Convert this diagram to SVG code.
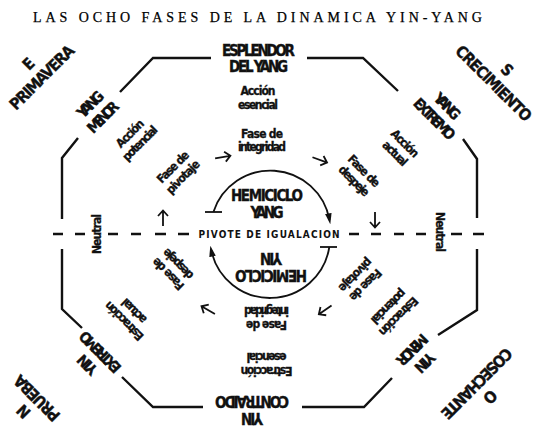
<svg xmlns="http://www.w3.org/2000/svg" xmlns:xlink="http://www.w3.org/1999/xlink" width="546" height="436" viewBox="0 0 546 436">
<style>
.ttl{font-family:"Liberation Serif",serif;font-size:14px;fill:#000;stroke:#000;stroke-width:0.25;}
.b{font-family:"DejaVu Sans Condensed","DejaVu Sans",sans-serif;font-weight:bold;font-size:15px;fill:#111;stroke:#111;stroke-width:0.35;text-anchor:middle;}
.c{font-family:"DejaVu Sans Condensed","DejaVu Sans",sans-serif;font-weight:bold;font-size:16px;fill:#111;stroke:#111;stroke-width:0.35;text-anchor:middle;}
.s{font-family:"DejaVu Sans Condensed","DejaVu Sans",sans-serif;font-weight:bold;font-size:12px;fill:#111;stroke:#111;stroke-width:0.3;text-anchor:middle;}
.p{font-family:"DejaVu Sans Condensed","DejaVu Sans",sans-serif;font-weight:bold;font-size:10px;fill:#111;text-anchor:middle;}
.ln{stroke:#111;stroke-width:2.4;fill:none;}
.ar{stroke:#111;stroke-width:1.8;fill:none;}
</style>
<defs>
<marker id="ah" viewBox="0 0 10 10" refX="6" refY="5" markerWidth="11" markerHeight="11" markerUnits="userSpaceOnUse" orient="auto">
<path d="M0,2 L10,5 L0,8 z" fill="#111"/>
</marker>
<g id="oa"><path d="M0,8 V-7 M-5,-2 L0,-7.5 L5,-2" class="ar"/></g>
</defs>
<rect width="546" height="436" fill="#fff"/>
<text class="ttl" x="33" y="22" textLength="449">LAS OCHO FASES DE LA DINAMICA YIN-YANG</text>

<g id="connectors">
<path class="ln" d="M211,58 H153 L120,92"/>
<path class="ln" d="M78,138 L62,158 V219"/>
<path class="ln" d="M62,249 V309 L82,328"/>
<path class="ln" d="M122,377 L153,407 H203"/>
<path class="ln" d="M302,407 H364 L392,378"/>
<path class="ln" d="M438,335 L477,310 V249"/>
<path class="ln" d="M477,218 V159 L463,139"/>
<path class="ln" d="M398,91 L363,58 H307"/>
<path class="ln" d="M53,234h10 M75,234h10 M108,234h10 M131,234h10 M155,234h11 M178,234h11 M349,234h10 M371,234h10 M394,234h10 M416,234h10 M451,234h11 M473,234h11"/>
<path class="ar" d="M213.4,212 A60 60 0 0 1 329.5,220" marker-end="url(#ah)"/>
<path class="ar" d="M205,212 H222"/>
<path class="ar" d="M329.3,247 A60 60 0 0 1 211.2,250" marker-end="url(#ah)"/>
<path class="ar" d="M320,247 H337"/>
<use xlink:href="#oa" transform="translate(163,218)"/>
<use xlink:href="#oa" transform="translate(375,220) rotate(180)"/>
<use xlink:href="#oa" transform="translate(223,157) rotate(80)"/>
<use xlink:href="#oa" transform="translate(320,160) rotate(110)"/>
<use xlink:href="#oa" transform="translate(208,310) rotate(-60)"/>
<use xlink:href="#oa" transform="translate(325,310) rotate(235)"/>
</g>

<g id="n-esplendor"><text class="b" x="258.5" y="56" textLength="73">ESPLENDOR</text><text class="b" x="258.5" y="72" textLength="59">DEL YANG</text></g>
<g id="n-accion-esencial"><text class="s" x="258" y="95" textLength="35">Acción</text><text class="s" x="258" y="109" textLength="40">esencial</text></g>
<g id="n-fase-integridad"><text class="s" x="262" y="138" textLength="42">Fase de</text><text class="s" x="262" y="151" textLength="48">integridad</text></g>
<g id="n-hemiciclo-yang"><text class="b" x="267" y="201" textLength="72">HEMICICLO</text><text class="b" x="267" y="218" textLength="33">YANG</text></g>
<g id="n-pivote"><text class="p" x="269" y="238" textLength="141">PIVOTE DE IGUALACION</text></g>

<g id="n-primavera" transform="translate(35,70.5) rotate(-45)"><text class="c" y="-3.7">E</text><text class="c" y="15.3" textLength="84">PRIMAVERA</text></g>
<g id="n-yang-menor" transform="translate(96.5,110.5) rotate(-45)"><text class="b" y="-3.5" textLength="31">YANG</text><text class="b" y="14.5" textLength="38">MENOR</text></g>
<g id="n-accion-potencial" transform="translate(135,138.5) rotate(-45)"><text class="s" y="-3" textLength="34">Acción</text><text class="s" y="11" textLength="44">potencial</text></g>
<g id="n-fase-pivotaje" transform="translate(178,172) rotate(-45)"><text class="s" y="-3" textLength="40">Fase de</text><text class="s" y="11" textLength="42">pivotaje</text></g>

<g id="n-crecimiento" transform="translate(500.5,76.5) rotate(45)"><text class="c" y="-3.7">S</text><text class="c" y="15.3" textLength="100">CRECIMIENTO</text></g>
<g id="n-yang-extremo" transform="translate(441,112.5) rotate(45)"><text class="b" y="-3.5" textLength="31">YANG</text><text class="b" y="14.5" textLength="52">EXTREMO</text></g>
<g id="n-accion-actual" transform="translate(400,148.5) rotate(45)"><text class="s" y="-3" textLength="34">Acción</text><text class="s" y="11" textLength="30">actual</text></g>
<g id="n-fase-despeje" transform="translate(359,176) rotate(45)"><text class="s" y="-3" textLength="40">Fase de</text><text class="s" y="11" textLength="38">despeje</text></g>

<g id="n-neutral-l" transform="translate(97,234) rotate(-90)"><text class="s" y="4" textLength="40">Neutral</text></g>
<g id="n-neutral-r" transform="translate(440,232) rotate(90)"><text class="s" y="4" textLength="40">Neutral</text></g>

<g id="n-hemiciclo-yin" transform="translate(271,267) rotate(180)"><text class="b" y="-3" textLength="72">HEMICICLO</text><text class="b" y="14" textLength="22">YIN</text></g>
<g id="n-fase-integridad-2" transform="translate(266.5,317.5) rotate(180)"><text class="s" y="-3" textLength="41">Fase de</text><text class="s" y="11" textLength="45">integridad</text></g>
<g id="n-estraccion-esencial" transform="translate(266.5,363.5) rotate(180)"><text class="s" y="-3" textLength="52">Estracción</text><text class="s" y="11" textLength="40">esencial</text></g>
<g id="n-yin-contraido" transform="translate(252,410) rotate(180)"><text class="b" y="-3" textLength="22">YIN</text><text class="b" y="14" textLength="74">CONTRAIDO</text></g>

<g id="n-prueba" transform="translate(30,405) rotate(225)"><text class="c" y="-3.7">N</text><text class="c" y="15.3" textLength="58">PRUEBA</text></g>
<g id="n-yin-extremo" transform="translate(93.5,358.5) rotate(225)"><text class="b" y="-3.5" textLength="22">YIN</text><text class="b" y="14.5" textLength="52">EXTREMO</text></g>
<g id="n-estraccion-actual" transform="translate(129,316) rotate(225)"><text class="s" y="-3" textLength="50">Estracción</text><text class="s" y="11" textLength="30">actual</text></g>
<g id="n-fase-despeje-2" transform="translate(173,269) rotate(225)"><text class="s" y="-3" textLength="40">Fase de</text><text class="s" y="11" textLength="38">despeje</text></g>

<g id="n-cosechante" transform="translate(483.5,390.5) rotate(135)"><text class="c" y="-3.7">O</text><text class="c" y="15.3" textLength="93">COSECHANTE</text></g>
<g id="n-yin-menor" transform="translate(418.5,356.5) rotate(135)"><text class="b" y="-3.5" textLength="22">YIN</text><text class="b" y="14.5" textLength="38">MENOR</text></g>
<g id="n-estraccion-potencial" transform="translate(393.5,311.5) rotate(135)"><text class="s" y="-3" textLength="50">Estracción</text><text class="s" y="11" textLength="44">potencial</text></g>
<g id="n-fase-pivotaje-2" transform="translate(360.5,280) rotate(135)"><text class="s" y="-3" textLength="40">Fase de</text><text class="s" y="11" textLength="42">pivotaje</text></g>
</svg>
